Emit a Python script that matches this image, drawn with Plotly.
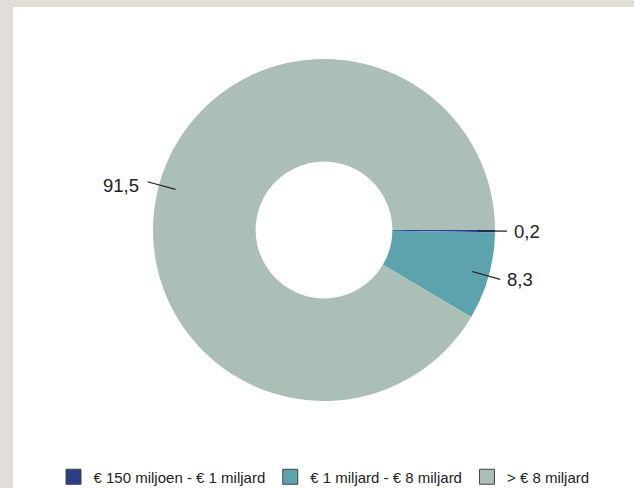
import math
import plotly.graph_objects as go

# ---- data ----
categories = ["€ 150 miljoen - € 1 miljard", "€ 1 miljard - € 8 miljard", "> € 8 miljard"]
values = [0.2, 8.3, 91.5]
value_labels = ["0,2", "8,3", "91,5"]
colors = ["#2c3d8a", "#5ca3ae", "#abbfb6"]

W, H = 634, 488
CX, CY, R = 324, 230, 171   # pie centre / radius in pixels
ROT = 90                    # first slice starts at 3 o'clock

fig = go.Figure()

fig.add_trace(go.Pie(
    values=values,
    labels=categories,
    marker=dict(colors=colors, line=dict(width=0)),
    hole=0.40,
    sort=False,
    direction="clockwise",
    rotation=ROT,
    textinfo="none",
    hoverinfo="label+value",
    showlegend=False,
    domain=dict(x=[(CX - R) / W, (CX + R) / W], y=[1 - (CY + R) / H, 1 - (CY - R) / H]),
))

# legend entries as square markers
for name, col in zip(categories, colors):
    fig.add_trace(go.Scatter(
        x=[None], y=[None], mode="markers", name=name,
        marker=dict(symbol="square", size=15, color=col, line=dict(color="#444444", width=1)),
        showlegend=True, hoverinfo="skip",
    ))

def px_to_paper(px, py):
    return px / W, 1 - py / H

shapes = [dict(type="rect", xref="paper", yref="paper",
               x0=13 / W, x1=1.02, y0=-0.02, y1=1 - 7 / H,
               fillcolor="white", line=dict(width=0), layer="below")]
annotations = []
total = sum(values)
cum = 0.0
for v, lab in zip(values, value_labels):
    mid = ROT + (cum + v / 2) / total * 360.0
    cum += v
    a = math.radians(mid)
    dx, dy = math.sin(a), -math.cos(a)
    x0, y0 = CX + 0.90 * R * dx, CY + 0.90 * R * dy
    x1, y1 = CX + 1.07 * R * dx, CY + 1.07 * R * dy
    p0 = px_to_paper(x0, y0)
    p1 = px_to_paper(x1, y1)
    shapes.append(dict(type="line", xref="paper", yref="paper",
                       x0=p0[0], y0=p0[1], x1=p1[0], y1=p1[1],
                       line=dict(color="#222222", width=1.2)))
    right = dx >= 0
    annotations.append(dict(xref="paper", yref="paper", x=p1[0], y=p1[1],
                            text=lab, showarrow=False,
                            xanchor="left" if right else "right", yanchor="middle",
                            xshift=5 if right else -7, yshift=0 if right else -4,
                            font=dict(size=18.5, color="#222222", family="Liberation Sans, Arial, sans-serif")))

fig.update_layout(
    width=W, height=H,
    margin=dict(l=0, r=0, t=0, b=0, autoexpand=False),
    paper_bgcolor="#e2ddd8",
    plot_bgcolor="rgba(0,0,0,0)",
    xaxis=dict(visible=False, domain=[0, 0.01]),
    yaxis=dict(visible=False, domain=[0, 0.01]),
    shapes=shapes,
    annotations=annotations,
    legend=dict(orientation="h", x=CX / W, xanchor="center", y=1 - 477 / H, yanchor="middle",
                font=dict(size=15, color="#222222", family="Liberation Sans, Arial, sans-serif"),
                bgcolor="rgba(0,0,0,0)", itemclick=False, itemdoubleclick=False),
    font=dict(family="Liberation Sans, Arial, sans-serif"),
)

fig.write_html("out.html",
               config={"displayModeBar": False},
               post_script="document.body.style.margin='0';document.body.style.padding='0';document.body.style.overflow='hidden';")
